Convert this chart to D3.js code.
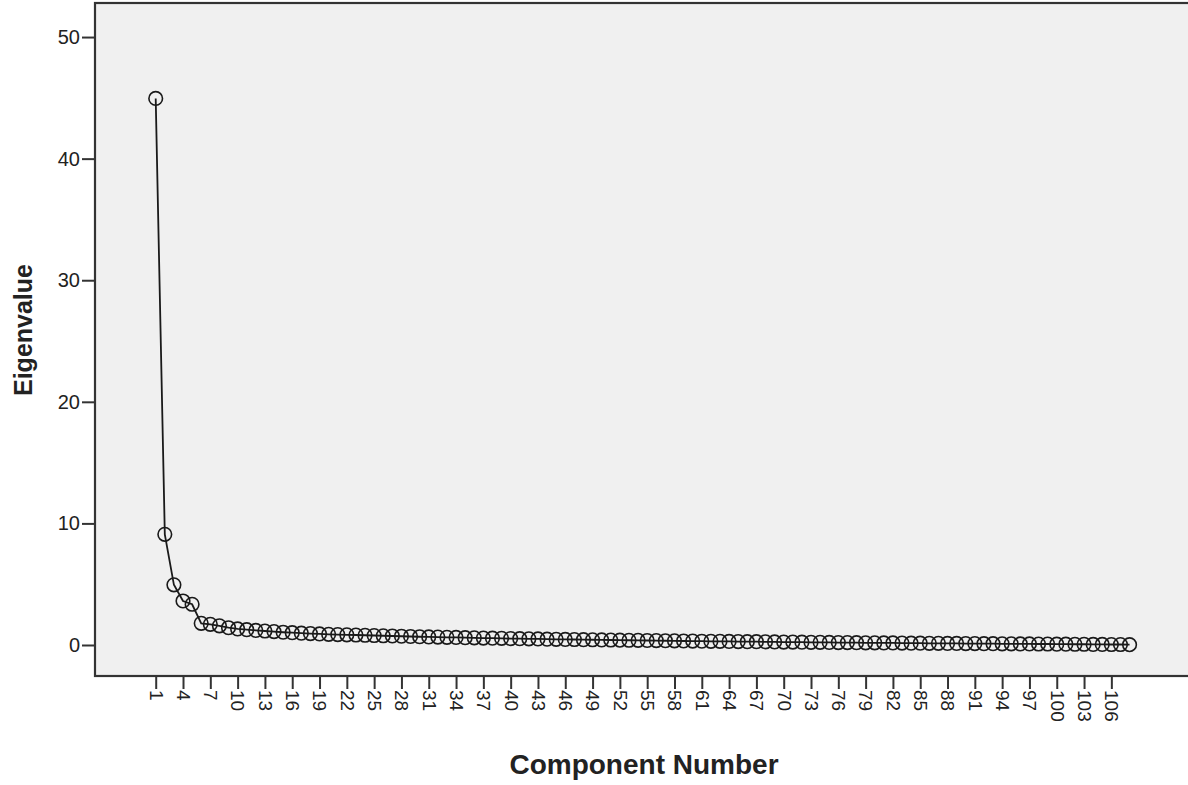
<!DOCTYPE html>
<html>
<head>
<meta charset="utf-8">
<script src="https://cdn.jsdelivr.net/npm/d3@7"></script>
<style>
  body { margin: 0; background: #fff; }
  text { font-family: "Liberation Sans", Arial, sans-serif; fill: #222; }
</style>
</head>
<body>
<div id="scree"></div>
<script>
// ==============================
// DATOS
// ==============================

const eigenvalues = [
  44.95, 9.1, 4.95, 3.62, 3.35, 1.78, 1.7, 1.58, 1.42, 1.32,
  1.26, 1.2, 1.15, 1.1, 1.05, 1.01, 0.97, 0.94, 0.91, 0.88,
  0.86, 0.84, 0.82, 0.8, 0.78, 0.76, 0.74, 0.72, 0.7, 0.68,
  0.66, 0.65, 0.63, 0.62, 0.6, 0.59, 0.57, 0.56, 0.55, 0.53,
  0.52, 0.51, 0.5, 0.48, 0.47, 0.46, 0.45, 0.44, 0.43, 0.42,
  0.41, 0.4, 0.39, 0.38, 0.37, 0.36, 0.35, 0.34, 0.33, 0.32,
  0.31, 0.3, 0.3, 0.29, 0.28, 0.27, 0.27, 0.26, 0.25, 0.24,
  0.24, 0.23, 0.22, 0.22, 0.21, 0.2, 0.2, 0.19, 0.18, 0.18,
  0.17, 0.17, 0.16, 0.15, 0.15, 0.14, 0.14, 0.13, 0.13, 0.12,
  0.12, 0.11, 0.11, 0.1, 0.1, 0.09, 0.09, 0.08, 0.08, 0.07,
  0.07, 0.06, 0.06, 0.05, 0.05, 0.04, 0.04, 0.03
];
const components = d3.range(1, eigenvalues.length + 1);

const xTicks = [1, 4, 7, 10, 13, 16, 19, 22, 25, 28, 31, 34, 37, 40, 43, 46, 49, 52,
  55, 58, 61, 64, 67, 70, 73, 76, 79, 82, 85, 88, 91, 94, 97, 100, 103, 106];
const yTicks = [0, 10, 20, 30, 40, 50];

const xTitle = "Component Number";
const yTitle = "Eigenvalue";

// ==============================
// CONFIGURACIÓN
// ==============================

const width = 1188;
const height = 785;
const plot = { left: 95, top: 3, right: 1196, bottom: 676 };

const svg = d3.select("#scree")
  .append("svg")
  .attr("width", width)
  .attr("height", height);

const x = d3.scaleLinear()
  .domain([-5.67, 115.3])
  .range([plot.left, plot.right]);

const y = d3.scaleLinear()
  .domain([-2.55, 52.8])
  .range([plot.bottom, plot.top]);

// fondo del área de trazado
svg.append("rect")
  .attr("x", plot.left)
  .attr("y", plot.top)
  .attr("width", plot.right - plot.left)
  .attr("height", plot.bottom - plot.top)
  .attr("fill", "#f0f0f0")
  .attr("stroke", "#333")
  .attr("stroke-width", 2.2);

// ==============================
// EJES
// ==============================

const yAxis = d3.axisLeft(y)
  .tickValues(yTicks)
  .tickSize(13)
  .tickPadding(2)
  .tickFormat(d3.format("d"));

const gy = svg.append("g")
  .attr("transform", `translate(${plot.left},0)`)
  .call(yAxis);
gy.select(".domain").remove();
gy.selectAll("line").attr("stroke", "#333").attr("stroke-width", 2);
gy.selectAll("text")
  .attr("font-size", 20)
  .attr("fill", "#222");

const xAxis = d3.axisBottom(x)
  .tickValues(xTicks)
  .tickSize(13)
  .tickFormat(d3.format("d"));

const gx = svg.append("g")
  .attr("transform", `translate(0,${plot.bottom})`)
  .call(xAxis);
gx.select(".domain").remove();
gx.selectAll("line").attr("stroke", "#333").attr("stroke-width", 2);
gx.selectAll("text")
  .attr("font-size", 19)
  .attr("fill", "#222")
  .attr("text-anchor", "start")
  .attr("transform", "translate(0,14) rotate(90)")
  .attr("x", 0)
  .attr("y", 0)
  .attr("dy", "0.35em");

// títulos
svg.append("text")
  .attr("x", 644)
  .attr("y", 774)
  .attr("text-anchor", "middle")
  .attr("font-size", 28)
  .attr("font-weight", "bold")
  .text(xTitle);

svg.append("text")
  .attr("transform", "translate(32,330) rotate(-90)")
  .attr("text-anchor", "middle")
  .attr("font-size", 25)
  .attr("font-weight", "bold")
  .text(yTitle);

// ==============================
// LÍNEA Y MARCADORES
// ==============================

const points = components.map((c, i) => ({ c, v: eigenvalues[i] }));

svg.append("path")
  .datum(points)
  .attr("fill", "none")
  .attr("stroke", "#1a1a1a")
  .attr("stroke-width", 1.8)
  .attr("d", d3.line().x(d => x(d.c)).y(d => y(d.v)));

svg.append("g")
  .selectAll("circle")
  .data(points)
  .join("circle")
  .attr("cx", d => x(d.c))
  .attr("cy", d => y(d.v))
  .attr("r", 6.8)
  .attr("fill", "none")
  .attr("stroke", "#1a1a1a")
  .attr("stroke-width", 1.6);
</script>
</body>
</html>
